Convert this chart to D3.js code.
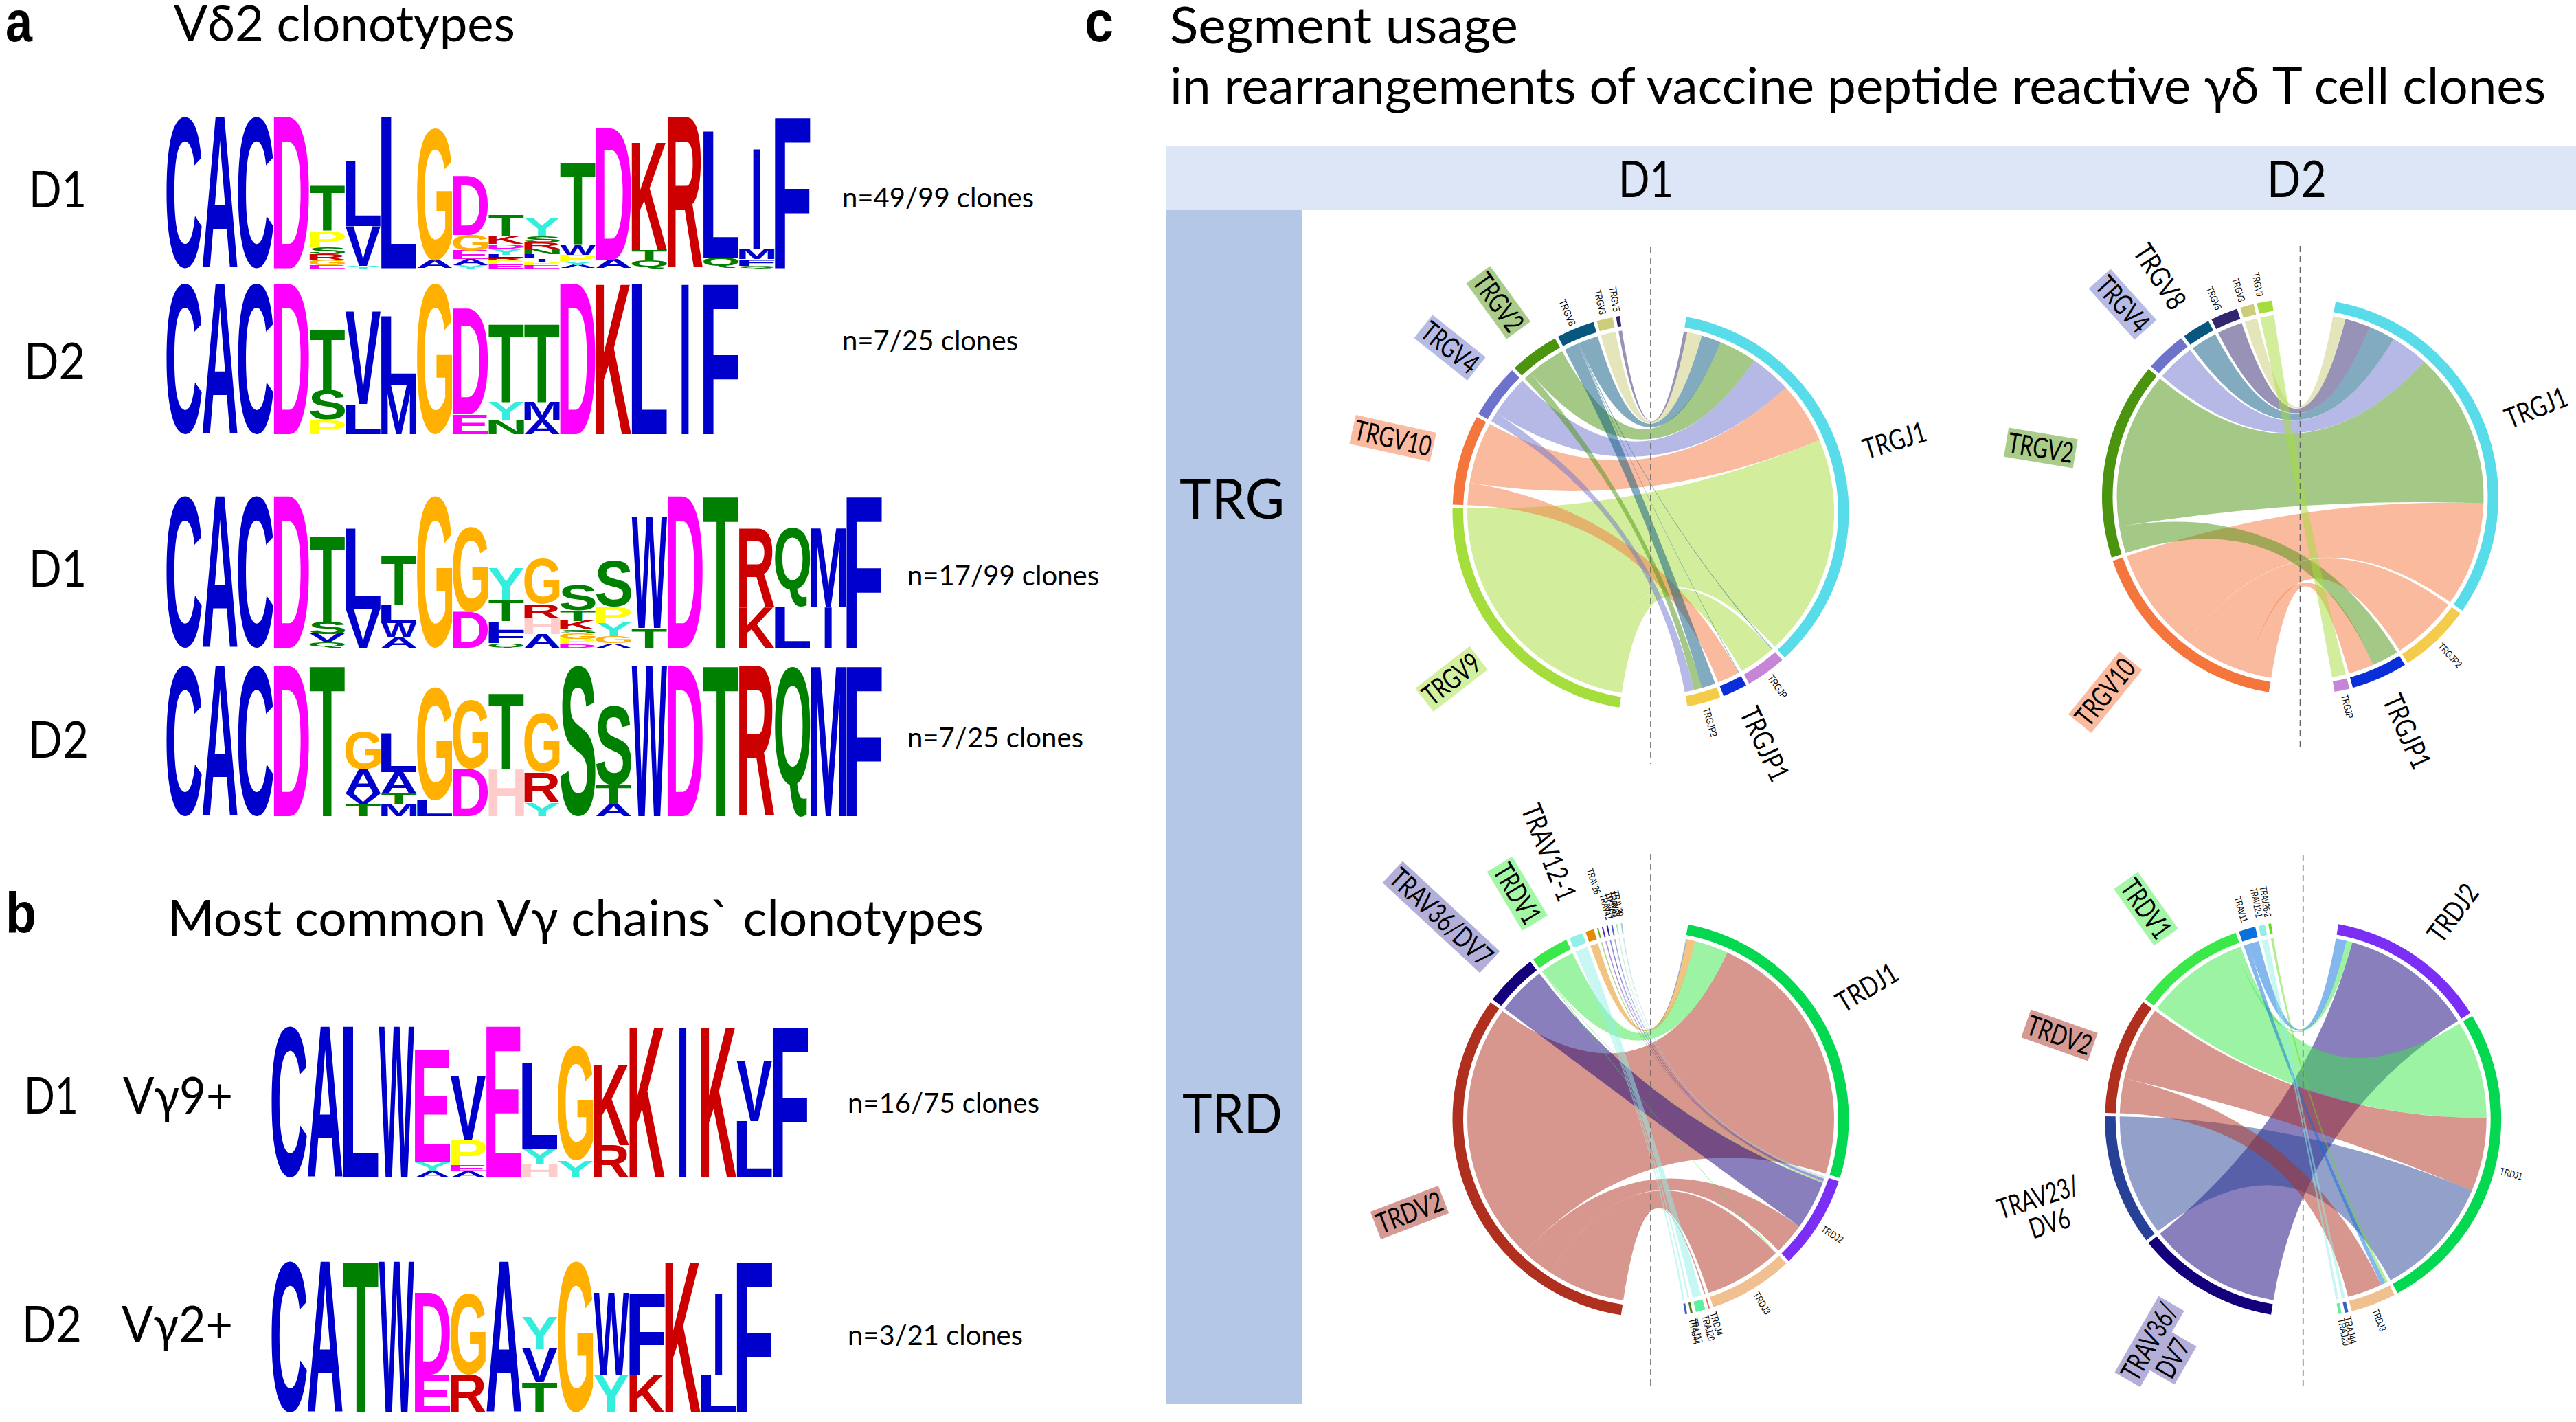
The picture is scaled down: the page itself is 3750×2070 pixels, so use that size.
<!DOCTYPE html>
<html><head><meta charset="utf-8">
<script src="https://cdn.jsdelivr.net/npm/d3@7/dist/d3.min.js"></script>
<style>html,body{margin:0;padding:0;background:#fff}svg{display:block}</style>
</head><body><svg id="fig" width="3750" height="2070" viewBox="0 0 3750 2070"></svg>
<script>
// ---------- sequence logos: columns bottom-up, "LetterHeight" with 100 = full stack ----------
const logoA1 = ["C100","A100","C100","D100","E2 G3.5 R3.5 S5 P10.5 T30","Y1.7 V26 L43","L100","A5 G87.5","Y2 A4 E5.5 G10.5 D39","E3 P2 R2 L2 Y4 D3 K5 T14","E2 P2 I2.4 L3 N3.5 R4 S4 Y12","A2 Y2.5 P4.5 W6.5 T54","A5.5 D87","Q5.5 T6.5 K71.5","R100","Q7 L83.5","Q1.7 F4.2 M7 I66","F100"];
const logoA2 = ["C100","A100","C100","D100","P9.6 S19.5 T39.7","L20 V61","M32.6 L45.4","G100","E13 D70","N9.6 Y11.7 T52","A9.6 M11.7 T52","D100","K100","L100","I100","F100"];
const logoA3 = ["C100","A100","C100","D100","Q4 V5 S8 T56.5","V26 L53","A7 W9.5 L11.5 T32.5","G100","D23.5 G56","Q3 F8 L6.5 T14 Y21","A9 H10.5 R9.5 G30","D2.5 P3.5 G3.5 S2.5 K5.5 T7 S16.5","A3 G4.5 Y9 P10.5 S30.5","T13 W73","D100","T100","K27 R52","L27 Q52","I27 M52","F100"];
const logoA4 = ["C100","A100","C100","D100","T100","T8 V7 A16 G25.5","M8 T7 A14 L25.5","L10.5 G75","D31.5 G45.5","H31 T50.5","Y9 R20 G39","S100","A8 T12.5 S53","W100","D100","T100","R100","Q100","M100","F100"];
const logoB1 = ["C100","A100","L100","W100","A4 Y6 E74.5","A4 E4 P17 V42","E100","H8.5 Y10.5 L56.5","Y11 G76","R21.5 K53.5","K100","I100","K100","L37.5 V39.5","F100"];
const logoB2 = ["C100","A100","T100","W100","E25 D54","R25 G54","A100","T20 V22 Y21.5","G100","Y25 W54","K25 F54","K100","L25 I54","F100"];
const residueColors = {C:"#0000CC",A:"#0000CC",L:"#0000CC",W:"#0000CC",V:"#0000CC",I:"#0000CC",M:"#0000CC",F:"#0000CC",
  D:"#FF00FF",E:"#FF00FF",K:"#CC0000",R:"#CC0000",G:"#FFB000",T:"#008000",S:"#008000",Q:"#008000",N:"#008000",
  P:"#FFFF00",Y:"#33EEDD",H:"#FFCCCC"};
const logoPlacements = [
  {cols:logoA1,x:242,top:170,bottom:390.5,col:52.1},
  {cols:logoA2,x:242,top:412.5,bottom:632,col:52.1},
  {cols:logoA3,x:242,top:722,bottom:943,col:52.1},
  {cols:logoA4,x:242,top:969,bottom:1188,col:52.1},
  {cols:logoB1,x:395,top:1494,bottom:1714,col:52.1},
  {cols:logoB2,x:395,top:1836,bottom:2056,col:52.1}
];

// ---------- chord values: rows = left (V) segments clockwise, columns = right (J) segments clockwise ----------
const trgLeftD1 = ["TRGV9","TRGV10","TRGV4","TRGV2","TRGV8","TRGV3","TRGV5"];
const trgRightD1 = ["TRGJ1","TRGJP","TRGJP1","TRGJP2"];
const trgLinksD1 = [[70.5,11.5,0,0],[19.5,0,7,0],[13,0,0,3],[12,0,0,2.5],[6.2,.3,.2,4.4],[4.7,0,0,0],[1.1,0,0,0]];
const trgLeftD2 = ["TRGV10","TRGV2","TRGV4","TRGV8","TRGV5","TRGV3","TRGV9"];
const trgRightD2 = ["TRGJ1","TRGJP2","TRGJP1","TRGJP"];
const trgLinksD2 = [[33,21,8,0],[49.5,0,8.5,0],[12,0,0,0],[8.3,0,0,0],[8,0,0,0],[4,0,0,0],[0,0,0,4.4]];
const trdLeftD1 = ["TRDV2","TRAV36/DV7","TRDV1","TRAV12-1","TRAV26","TRAV41","TRAV34","TRAV39","TRAV30a","TRAV30b","TRAV30"];
const trdRightD1 = ["TRDJ1","TRDJ2","TRDJ3","TRDJ4","TRAJ20","TRAJ17","TRAJ44"];
const trdLinksD1 = [[82.6,10,24.5,.4,0,0,0],[0,15.5,0,0,0,0,0],[10.7,.2,.3,0,0,0,0],[0,0,0,0,2.8,.6,.6],[2.5,0,0,0,0,0,0],
  [.1,.3,0,0,0,0,0],[.1,.3,0,0,0,0,0],[.1,.3,0,0,0,0,0],[.1,.3,0,0,0,0,0],[.1,.3,0,0,0,0,0],[.1,.3,0,0,0,0,0]];
const trdLeftD2 = ["TRAV36/DV7","TRAV23/DV6","TRDV2","TRDV1","TRAV11","TRAV12-1","TRAV26-2"];
const trdRightD2 = ["TRDJ2","TRDJ1","TRDJ3","TRAJ44","TRAJ20"];
const trdLinksD2 = [[42,0,0,0,0],[0,38.5,0,0,0],[0,23.4,11,0,0],[1.9,31,0,0,0],[3.4,0,1.5,0,0],[0,0,0,1,.9],[0,0,.8,0,0]];
const segmentColors = {TRGJ1:"#58DCEA",TRGJP:"#C586D8",TRGJP1:"#0A2FD8",TRGJP2:"#F2CC4A",TRGV9:"#A5DE3C",TRGV10:"#F4763C",TRGV4:"#6D73CB",TRGV2:"#4A9410",TRGV8:"#07577F",TRGV3:"#CCCC7A",TRGV5:"#332670",
  TRDJ1:"#04D850",TRDJ2:"#7B2FF5",TRDJ3:"#F0C090",TRDJ4:"#E87050",TRAJ20:"#5FEFA0",TRAJ17:"#4A7A20",TRAJ44:"#3A5FBF",TRDV2:"#B03020","TRAV36/DV7":"#13007A",TRDV1:"#3BE84A","TRAV12-1":"#8FF0E8",TRAV26:"#E58A05",
  TRAV41:"#5FAF20",TRAV34:"#6020C0",TRAV39:"#2020A0",TRAV30a:"#5060D0",TRAV30b:"#B0E8B0",TRAV30:"#A0D0E0","TRAV23/DV6":"#264196",TRAV11:"#0A70DC","TRAV26-2":"#60E020"};
const chordPanels = [
  {left:trgLeftD1,right:trgRightD1,links:trgLinksD1,cx:2403,cy:745,rightStart:10.4,leftStart:189.1,dash:[360,1112]},
  {left:trgLeftD2,right:trgRightD2,links:trgLinksD2,cx:3348.5,cy:723,rightStart:10.3,leftStart:189.1,dash:[358,1088]},
  {left:trdLeftD1,right:trdRightD1,links:trdLinksD1,cx:2403,cy:1629,rightStart:10.9,leftStart:188.6,dash:[1243,2017]},
  {left:trdLeftD2,right:trdRightD2,links:trdLinksD2,cx:3352.7,cy:1629,rightStart:10.3,leftStart:189.3,dash:[1244,2017]}
];
const segmentGap = 1;
const ringOuter = 288.5, ringInner = 273, ribbonRadius = 267;

// ---------- text ----------
// [text, x, baseline, size, width, weight]
const plainTexts = [
  ["a",8,60,84,39,"bold"],["c",1579,60,84,42,"bold"],["b",8,1358,84,45,"bold"],
  ["Vδ2 clonotypes",253,60,72,497],["Most common Vγ chains` clonotypes",244,1362,72,1188],
  ["Segment usage",1703,62.7,74,507],["in rearrangements of vaccine peptide reactive γδ T cell clones",1703,150.7,74,2003],
  ["D1",42,302,74,84],["D2",35,552,74,89],["D1",42,854,74,84],["D2",41,1103,74,88],
  ["n=49/99 clones",1226,302,41,279],["n=7/25 clones",1226,510,41,256],["n=17/99 clones",1321,852,41,279],["n=7/25 clones",1321,1088,41,256],
  ["D1",35,1621,74,79],["Vγ9+",179,1621,74,160],["n=16/75 clones",1234,1620,41,279],
  ["D2",32,1954,74,87],["Vγ2+",177,1954,74,162],["n=3/21 clones",1234,1958,41,255],
  ["D1",2356,287,74,80],["D2",3300,287,74,87],
  ["TRG",1717,755,82,153],["TRD",1721,1650,82,146]
];
const headerBands = [[1698,212,2052,94,"#DCE6F7"],[1698,306,198,1738,"#B4C7E7"]];
// big segment labels [text, centre x, centre y, rotation, width, background]
const bigLabels = [
  ["TRGV2",2181.3,440.4,54,94,"#A9CC8A"],["TRGV4",2110.7,506,38.5,93,"#B6BBE5"],["TRGV10",2027.7,638,12.6,114,"#FBBBA0"],["TRGV9",2113,988.4,-37.8,94,"#D2F0A0"],
  ["TRGJ1",2758,641,-17,94,null],["TRGJP1",2568.8,1083,65,114,null],
  ["TRGV8",3144,402.6,57,104,null],["TRGV4",3090,443,48,94,"#B6BBE5"],["TRGV2",2970.9,652,9.5,96,"#A9CC8A"],["TRGV10",3064.8,1007.6,-51,112,"#FBBBA0"],
  ["TRGJ1",3692,593.5,-22,94,null],["TRGJP1",3504,1065,66,114,null],
  ["TRAV36/DV7",2098,1334.9,42.8,187,"#B4AFD8"],["TRDV1",2208.8,1300.8,59,94,"#A4F7A6"],["TRAV12-1",2254.8,1241,68,148,null],["TRDV2",2052,1765,-21,100,"#D59A93"],["TRDJ1",2718,1437.6,-31,97,null],
  ["TRDV1",3124,1323,54.6,95,"#A4F7A6"],["TRDV2",2998,1507,19.4,97,"#D59A93"],["TRAV23/",2966.7,1742.7,-18,122,null],["DV6",2983.6,1780.9,-18,60,null],
  ["TRAV36/",3129,1953,-60,122,"#B4AFD8"],["DV7",3163,1977,-60,58,"#B4AFD8"],["TRDJ2",3571,1329,-53,94,null]
];
const smallLabels = [
  ["TRGV8",2281.7,455,67,40],["TRGV3",2329.4,440,77,36],["TRGV5",2350.6,435.5,81,36],["TRGJP",2587.7,999.4,55,38],["TRGJP2",2489.6,1051.5,74,43],
  ["TRGV5",3223,434.4,67,35],["TRGV3",3258.8,421.8,74,35],["TRGV9",3286.7,414,79,35],["TRGJP2",3566.7,953.9,47,43],["TRGJP",3417,1028.5,77,35],
  ["TRAV26",2320,1283,72,38],["TRAV41",2338,1320,75,38],["TRAV34",2345,1318,76,38],["TRAV39",2350,1316,77,38],["TRAV30",2355,1315,78,38],
  ["TRDJ2",2667.5,1796.7,32,35],["TRDJ3",2565,1897,59,35],["TRDJ4",2499,1927,73,35],["TRAJ20",2487,1933,75,38],["TRAJ17",2470,1937,77.6,38],["TRAJ44",2467,1938,79,38],
  ["TRAV11",3262.4,1324,74,38],["TRAV12-1",3284.8,1314,78.5,43],["TRAV26-2",3298,1312.6,80.6,45],["TRDJ1",3655.8,1708.7,15,33],["TRDJ3",3463.6,1921.7,69,33],["TRAJ44",3421.8,1936.4,77.5,40],["TRAJ20",3412,1939,79,40]
];

// ---------- drawing ----------
const svg = d3.select("#fig");
const labelFont = "Lato,'Noto Sans',sans-serif";

svg.selectAll("rect.band").data(headerBands).join("rect").attr("class","band")
  .attr("x",d=>d[0]).attr("y",d=>d[1]).attr("width",d=>d[2]).attr("height",d=>d[3]).attr("fill",d=>d[4]);

svg.selectAll("text.plain").data(plainTexts).join("text").attr("class","plain")
  .attr("x",d=>d[1]).attr("y",d=>d[2]).attr("font-size",d=>d[3])
  .attr("font-family",d=>d[5]?"'Liberation Sans',sans-serif":labelFont).attr("font-weight",d=>d[5]||"normal")
  .attr("textLength",d=>d[4]).attr("lengthAdjust","spacingAndGlyphs").attr("fill","#000").text(d=>d[0]);

// logos: each glyph is stretched so that its ink fills the stack box
const ctx = document.createElement("canvas").getContext("2d");
const glyphSize = 200;
ctx.font = `bold ${glyphSize}px 'Liberation Sans'`;
const metrics = {};
function glyph(l){ return metrics[l] || (metrics[l] = ctx.measureText(l)); }
logoPlacements.forEach(p=>{
  const x = d3.scaleLinear().domain([0,1]).range([p.x,p.x+p.col]);
  const y = d3.scaleLinear().domain([0,100]).range([p.bottom,p.top]);
  const g = svg.append("g").attr("class","logo");
  p.cols.forEach((col,i)=>{
    let acc = 0;
    col.split(" ").forEach(tok=>{
      const l = tok[0], h = +tok.slice(1);
      const m = glyph(l);
      const inkL = m.actualBoundingBoxLeft, inkR = m.actualBoundingBoxRight, asc = m.actualBoundingBoxAscent, desc = m.actualBoundingBoxDescent;
      const colW = x(1)-x(0);
      const w = l==="I" ? colW*0.2 : colW*0.985;
      const left = x(i)+(colW-w)/2;
      const yb = y(acc), yt = y(acc+h);
      const sx = w/(inkL+inkR), sy = (yb-yt)/(asc+desc);
      g.append("text").text(l).attr("font-family","'Liberation Sans'").attr("font-weight","bold")
        .attr("font-size",glyphSize).attr("fill",residueColors[l])
        .attr("transform",`translate(${left+inkL*sx},${yb-desc*sy}) scale(${sx},${sy})`);
      acc += h;
    });
  });
});

// chord diagrams
const toAngle = d3.scaleLinear().domain([0,360]).range([0,2*Math.PI]);
const arc = d3.arc().innerRadius(ringInner).outerRadius(ringOuter);
const ribbon = d3.ribbon().radius(ribbonRadius);
chordPanels.forEach(p=>{
  const g = svg.append("g").attr("transform",`translate(${p.cx},${p.cy})`);
  const leftTotals = p.links.map(r=>d3.sum(r));
  const rightTotals = p.right.map((_,j)=>d3.sum(p.links,r=>r[j]));
  const leftStarts=[], rightStarts=[];
  let a = p.leftStart; leftTotals.forEach(t=>{leftStarts.push(a); a+=t+segmentGap;});
  a = p.rightStart; rightTotals.forEach(t=>{rightStarts.push(a); a+=t+segmentGap;});
  // walk each left segment clockwise over right segments in reverse, and vice versa
  const leftCursor = leftStarts.slice(), rightCursor = rightStarts.slice();
  const srcPos = p.links.map(()=>[]), tgtPos = p.links.map(()=>[]);
  p.links.forEach((r,i)=>{ for(let j=r.length-1;j>=0;j--){ srcPos[i][j]=leftCursor[i]; leftCursor[i]+=r[j]; } });
  p.right.forEach((_,j)=>{ for(let i=p.links.length-1;i>=0;i--){ tgtPos[i][j]=rightCursor[j]; rightCursor[j]+=p.links[i][j]; } });
  const links=[];
  p.links.forEach((r,i)=>r.forEach((v,j)=>{ if(v>0) links.push({
    source:{startAngle:toAngle(srcPos[i][j]),endAngle:toAngle(srcPos[i][j]+v)},
    target:{startAngle:toAngle(tgtPos[i][j]),endAngle:toAngle(tgtPos[i][j]+v)},
    color:segmentColors[p.left[i]] }); }));
  g.selectAll("path.rib").data(links).join("path").attr("class","rib").attr("d",ribbon)
    .attr("fill",d=>d.color).attr("fill-opacity",0.5);
  const sectors = p.left.map((n,i)=>({n,s:leftStarts[i],t:leftTotals[i]})).concat(p.right.map((n,j)=>({n,s:rightStarts[j],t:rightTotals[j]})));
  g.selectAll("path.sec").data(sectors).join("path").attr("class","sec")
    .attr("d",d=>arc({startAngle:toAngle(d.s),endAngle:toAngle(d.s+d.t)})).attr("fill",d=>segmentColors[d.n]);
  svg.append("line").attr("x1",p.cx).attr("x2",p.cx).attr("y1",p.dash[0]).attr("y2",p.dash[1])
    .attr("stroke","#666").attr("stroke-width",1.6).attr("stroke-dasharray","9 6");
});

// labels
const big = svg.selectAll("g.big").data(bigLabels).join("g").attr("class","big")
  .attr("transform",d=>`translate(${d[1]},${d[2]}) rotate(${d[3]})`);
big.filter(d=>d[5]).append("rect").attr("x",d=>-d[4]/2-3).attr("y",-21.5).attr("width",d=>d[4]+6).attr("height",43).attr("fill",d=>d[5]);
big.append("text").attr("text-anchor","middle").attr("dy","0.35em").attr("font-size",41).attr("font-family",labelFont)
  .attr("textLength",d=>d[4]).attr("lengthAdjust","spacingAndGlyphs").text(d=>d[0]);
svg.selectAll("text.small").data(smallLabels).join("text").attr("class","small")
  .attr("transform",d=>`translate(${d[1]},${d[2]}) rotate(${d[3]})`)
  .attr("text-anchor","middle").attr("dy","0.35em").attr("font-size",14.5).attr("font-family","'Liberation Sans',sans-serif")
  .attr("textLength",d=>d[4]).attr("lengthAdjust","spacingAndGlyphs").text(d=>d[0]);
</script></body></html>
